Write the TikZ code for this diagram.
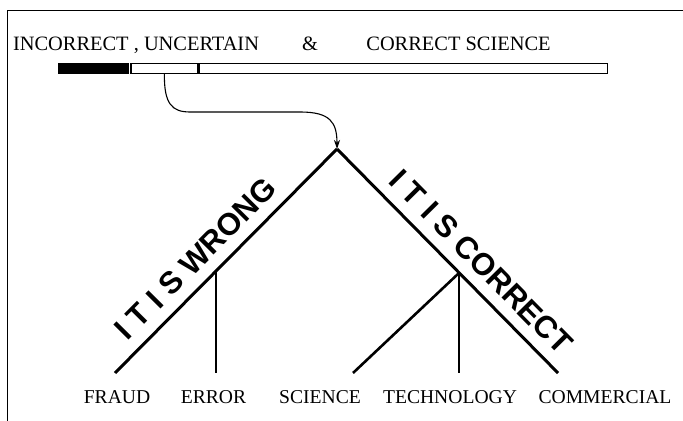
\documentclass[tikz,border=0pt]{standalone}
\usepackage{fontspec}
\setmainfont{Liberation Serif}
\newfontfamily\branchfont{Liberation Sans}
\usetikzlibrary{arrows.meta,positioning}
\tikzset{
  titletext/.style={font=\fontsize{10.2}{12}\selectfont, inner sep=0pt, anchor=base west},
  labeltext/.style={font=\fontsize{9.8}{12}\selectfont, inner sep=0pt, anchor=base},
  branchtext/.style={font=\branchfont\bfseries\fontsize{15.5}{18}\selectfont, inner sep=0pt, sloped, above=5.5pt},
  barbox/.style={draw, line width=0.65pt, minimum height=5pt, inner sep=0pt},
  treeline/.style={line width=1.5pt},
  twigline/.style={line width=1.3pt},
  linkarrow/.style={-{Stealth[length=4.5pt, width=3pt]}, line width=0.55pt}
}

\begin{document}
\begin{tikzpicture}[x=0.5pt, y=-0.5pt]
  \useasboundingbox (0,0) rectangle (683,421);
  \draw[line width=0.6pt] (683,10.7) -- (7.3,10.7) -- (7.3,421);

  % heading and the scale bar
  \node[titletext] (incorrect) at (12.7,51) {INCORRECT , UNCERTAIN};
  \node[titletext, anchor=base] (amp) at (310,51) {\&};
  \node[titletext] (correct) at (366,51) {CORRECT SCIENCE};
  \node[barbox, fill=black, minimum width=34.5pt] (wrongbar) at (93.5,68.3) {};
  \node[barbox, minimum width=33.5pt, right=0.8pt of wrongbar] (unsurebar) {};
  \node[barbox, minimum width=204pt, right=0pt of unsurebar] (rightbar) {};

  % the tree
  \coordinate (top) at (337,149);
  \coordinate (wrongfork) at (216,271);
  \coordinate (rightfork) at (459,273);
  \coordinate (fraudend) at (115,373);
  \coordinate (errorend) at (216,373);
  \coordinate (sciend) at (353,373);
  \coordinate (techend) at (459,373);
  \coordinate (commend) at (558,373);

  \draw[treeline] (fraudend) -- node[branchtext, pos=0.437] (wrong) {I T I S WRONG} (top);
  \draw[treeline] (top) -- node[branchtext, pos=0.577] (right) {I T I S CORRECT} (commend);
  \draw[twigline] (wrongfork) -- (errorend);
  \draw[twigline] (rightfork) -- (sciend);
  \draw[twigline] (rightfork) -- (techend);

  \draw[linkarrow] (unsurebar.south) .. controls (164,104) and (172,112) .. (190,112)
    -- (300,112) .. controls (330,112) and (337,122) .. (top);

  \node[labeltext] (fraud) at (117,403) {FRAUD};
  \node[labeltext] (error) at (213.5,403) {ERROR};
  \node[labeltext] (science) at (320,403) {SCIENCE};
  \node[labeltext] (technology) at (450,403) {TECHNOLOGY};
  \node[labeltext] (commercial) at (605,403) {COMMERCIAL};
\end{tikzpicture}
\end{document}
